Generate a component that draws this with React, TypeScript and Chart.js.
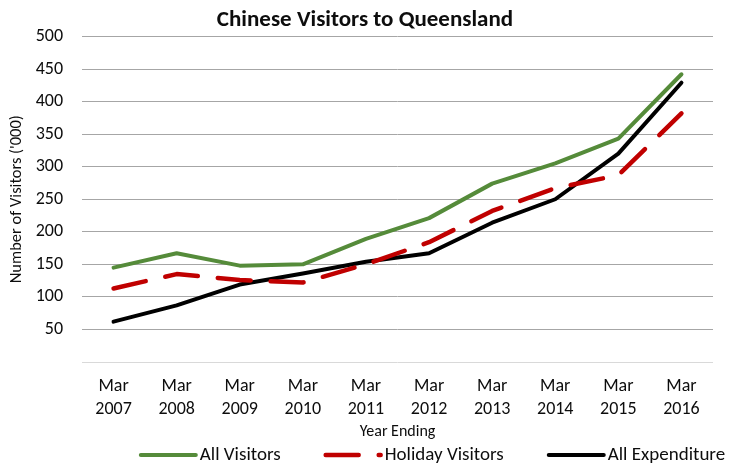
import React, { useEffect, useRef } from "react";
import { Chart, registerables } from "chart.js";

Chart.register(...registerables);

const chartTitle = "Chinese Visitors to Queensland";
const yAxisTitle = "Number of Visitors ('000)";
const xAxisTitle = "Year Ending";
const monthLabel = "Mar";
const years = ["2007", "2008", "2009", "2010", "2011", "2012", "2013", "2014", "2015", "2016"];
const seriesNames = ["All Visitors", "Holiday Visitors", "All Expenditure"];
const allVisitors = [145, 167, 148, 150, 189, 221, 274, 305, 343, 442];
const holidayVisitors = [113, 135, 126, 122, 150, 184, 232, 267, 287, 382];
const allExpenditure = [62, 87, 119, 136, 154, 167, 214, 250, 320, 429];
const yMin = 0;
const yMax = 500;
const yStep = 50;

const FONT = "Carlito, Lato, sans-serif";
const TEXT = "#0d0d0d";

const legendPlugin = {
  id: "customLegend",
  afterLayout(chart: any) {
    // centre the title over the whole canvas, as in the reference
    if (chart.titleBlock) chart.titleBlock.right += 17;
  },
  afterDraw(chart: any) {
    const ctx = chart.ctx;
    const items = chart.data.datasets;
    ctx.save();
    ctx.font = `19px ${FONT}`;
    const sample = 55;
    const textOffset = 59;
    const spacing = 45;
    const widths = items.map((d: any) => textOffset + ctx.measureText(d.label).width);
    const total = widths.reduce((a: number, b: number) => a + b, 0) + spacing * (items.length - 1);
    let x = 431 - total / 2 + 2;
    const y = chart.height - 11;
    items.forEach((d: any, i: number) => {
      ctx.beginPath();
      ctx.setLineDash(d.borderDash || []);
      ctx.lineCap = "round";
      ctx.lineWidth = d.borderWidth;
      ctx.strokeStyle = d.borderColor;
      ctx.moveTo(x, y);
      ctx.lineTo(x + sample, y);
      ctx.stroke();
      ctx.setLineDash([]);
      ctx.fillStyle = TEXT;
      ctx.textBaseline = "middle";
      ctx.textAlign = "left";
      ctx.fillText(d.label, x + textOffset, y);
      x += widths[i] + spacing;
    });
    ctx.restore();
  },
};

export default function App() {
  const ref = useRef<HTMLCanvasElement | null>(null);
  useEffect(() => {
    if (!ref.current) return;
    const chart = new Chart(ref.current, {
      type: "line",
      data: {
        labels: years.map((y) => [monthLabel, y]),
        datasets: [
          {
            label: seriesNames[0],
            data: allVisitors,
            borderColor: "#558B3A",
            backgroundColor: "#558B3A",
            borderWidth: 4,
            pointRadius: 0,
            borderCapStyle: "round",
            borderJoinStyle: "round",
            tension: 0,
          },
          {
            label: seriesNames[1],
            data: holidayVisitors,
            borderColor: "#C00000",
            backgroundColor: "#C00000",
            borderWidth: 4.5,
            pointRadius: 0,
            borderDash: [33, 20],
            borderCapStyle: "round",
            borderJoinStyle: "round",
            tension: 0,
          },
          {
            label: seriesNames[2],
            data: allExpenditure,
            borderColor: "#000000",
            backgroundColor: "#000000",
            borderWidth: 4,
            pointRadius: 0,
            borderCapStyle: "round",
            borderJoinStyle: "round",
            tension: 0,
          },
        ],
      },
      options: {
        responsive: false,
        animation: false,
        layout: { padding: { left: 0, right: 17, top: 0, bottom: 24.4 } },
        plugins: {
          legend: { display: false },
          tooltip: { enabled: false },
          title: {
            display: true,
            text: chartTitle,
            color: TEXT,
            font: { family: FONT, size: 23, weight: "bold", lineHeight: 1.2 },
            padding: { top: 6.2, bottom: 2.7 },
          },
        },
        scales: {
          x: {
            type: "category",
            offset: true,
            grid: { display: false, drawTicks: false },
            border: { display: false },
            ticks: {
              color: TEXT,
              padding: 13,
              maxRotation: 0,
              autoSkip: false,
              font: { family: FONT, size: 18, lineHeight: 1.27 },
            },
            title: {
              display: true,
              text: xAxisTitle,
              color: TEXT,
              font: { family: FONT, size: 16, lineHeight: 1.2 },
              padding: { top: 0, bottom: 0 },
            },
            afterFit(scale: any) {
              scale.height = 79.6;
            },
          },
          y: {
            min: yMin,
            max: yMax,
            grid: {
              drawTicks: false,
              lineWidth: 1,
              color: (c: any) => (c.tick && c.tick.value === 0 ? "#d9d9d9" : "#a6a6a6"),
            },
            border: { display: false },
            ticks: {
              stepSize: yStep,
              color: TEXT,
              padding: 19,
              font: { family: FONT, size: 18 },
              callback: (v: any) => (v === 0 ? "" : String(v)),
            },
            title: {
              display: true,
              text: yAxisTitle,
              color: TEXT,
              font: { family: FONT, size: 16.5, lineHeight: 1.2 },
              padding: { top: 7.4, bottom: 0 },
            },
            afterFit(scale: any) {
              scale.width = 82;
            },
          },
        },
      },
      plugins: [legendPlugin],
    });
    return () => chart.destroy();
  }, []);
  return (
    <div style={{ position: "absolute", left: 0, top: 0, width: 730, height: 466, background: "#fff" }}>
      <canvas ref={ref} width={730} height={466} />
    </div>
  );
}
